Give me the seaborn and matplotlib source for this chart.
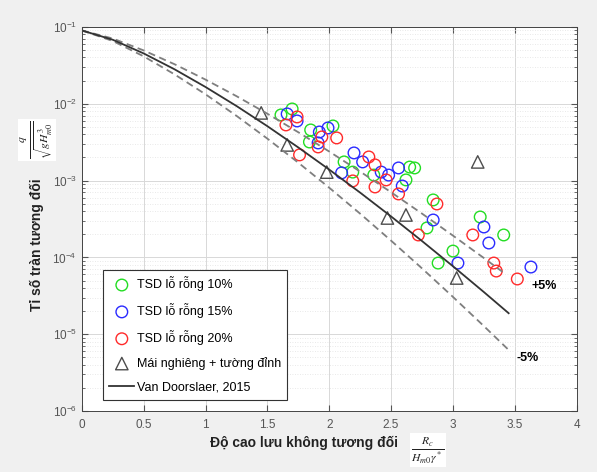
import numpy as np
import pandas as pd
import matplotlib
matplotlib.use("Agg")
import matplotlib.pyplot as plt
import seaborn as sns

# --- data ---
# TSD lo rong 10%
x_10 = [1.61, 1.70, 1.85, 1.84, 2.03, 2.12, 2.19, 2.36, 2.65, 2.69, 2.62, 2.84,
        2.79, 3.00, 2.88, 3.22, 3.41]
q_10 = [7.15e-3, 8.55e-3, 4.56e-3, 3.18e-3, 5.14e-3, 1.75e-3, 1.29e-3, 1.18e-3,
        1.50e-3, 1.46e-3, 1.02e-3, 5.6e-4, 2.42e-4, 1.21e-4, 8.45e-5, 3.36e-4, 1.96e-4]
# TSD lo rong 15%
x_15 = [1.66, 1.74, 1.92, 1.99, 1.91, 2.20, 2.27, 2.10, 2.42, 2.48, 2.56, 2.59,
        2.84, 3.25, 3.29, 3.04, 3.63]
q_15 = [7.37e-3, 5.97e-3, 4.29e-3, 4.84e-3, 3.09e-3, 2.29e-3, 1.75e-3, 1.26e-3,
        1.29e-3, 1.18e-3, 1.46e-3, 8.5e-4, 3.07e-4, 2.49e-4, 1.54e-4, 8.45e-5, 7.5e-5]
# TSD lo rong 20%
x_20 = [1.65, 1.74, 1.91, 1.94, 2.06, 1.76, 2.32, 2.37, 2.19, 2.37, 2.46, 2.56,
        2.87, 2.72, 3.16, 3.33, 3.35, 3.52]
q_20 = [5.30e-3, 6.73e-3, 2.74e-3, 3.70e-3, 3.59e-3, 2.16e-3, 2.03e-3, 1.60e-3,
        9.9e-4, 8.26e-4, 1.02e-3, 6.7e-4, 4.96e-4, 1.96e-4, 1.96e-4, 8.45e-5,
        6.65e-5, 5.24e-5]
# Mai nghieng + tuong dinh
x_tri = [1.45, 1.66, 1.98, 2.47, 2.62, 3.03, 3.20]
q_tri = [7.6e-3, 2.91e-3, 1.29e-3, 3.26e-4, 3.57e-4, 5.4e-5, 1.75e-3]

# Van Doorslaer 2015 curve and +/-5% bands (log10 of q)
x_ref = [0, 0.25, 0.5, 0.75, 1.0, 1.25, 1.5, 1.75, 2.0, 2.25, 2.5, 2.75, 3.0, 3.25, 3.45]
log_ref = [-1.046, -1.167, -1.345, -1.552, -1.782, -2.029, -2.292, -2.569, -2.857,
           -3.157, -3.467, -3.787, -4.115, -4.451, -4.726]
x_up = [0, 0.25, 0.5, 0.75, 1.0, 1.25, 1.5, 1.75, 2.0, 2.25, 2.5, 2.75, 3.0, 3.25, 3.4]
log_up = [-1.046, -1.151, -1.306, -1.486, -1.686, -1.901, -2.130, -2.371, -2.622,
          -2.883, -3.152, -3.430, -3.716, -4.008, -4.187]
log_lo = [-1.046, -1.183, -1.383, -1.618, -1.877, -2.157, -2.454, -2.767, -3.093,
          -3.431, -3.782, -4.143, -4.514, -4.894, -5.204]

labels = ["TSD lỗ rỗng 10%", "TSD lỗ rỗng 15%", "TSD lỗ rỗng 20%",
          "Mái nghiêng + tường đỉnh", "Van Doorslaer, 2015"]
colors = ["#22dd22", "#2a2aff", "#ff2a2a"]

plt.rcParams["mathtext.fontset"] = "stix"
plt.rcParams["font.family"] = ["Liberation Sans", "DejaVu Sans"]

fig = plt.figure(figsize=(5.97, 4.72), dpi=100, facecolor="#f0f0f0")
ax = fig.add_axes([0.137, 0.129, 0.829, 0.814])
ax.set_facecolor("white")
ax.set_yscale("log")

sns.lineplot(x=x_up, y=10 ** np.array(log_up), ax=ax, color="#7f7f7f", lw=1.3,
             linestyle=(0, (4, 2.5)), sort=False)
sns.lineplot(x=x_ref, y=10 ** np.array(log_lo), ax=ax, color="#7f7f7f", lw=1.3,
             linestyle=(0, (4, 2.5)), sort=False)

pts = pd.concat([
    pd.DataFrame({"x": x_10, "q": q_10, "g": labels[0]}),
    pd.DataFrame({"x": x_15, "q": q_15, "g": labels[1]}),
    pd.DataFrame({"x": x_20, "q": q_20, "g": labels[2]}),
])
for lab, col in zip(labels[:3], colors):
    d = pts[pts["g"] == lab]
    sns.scatterplot(data=d, x="x", y="q", ax=ax, marker="o", s=70, color=col,
                    facecolor="none", edgecolor=col, linewidth=1.0, label=lab)
sns.scatterplot(x=x_tri, y=q_tri, ax=ax, marker="^", s=80, color="#4d4d4d",
                facecolor="none", edgecolor="#4d4d4d", linewidth=1.0, label=labels[3])
sns.lineplot(x=x_ref, y=10 ** np.array(log_ref), ax=ax, color="#333333", lw=1.3,
             sort=False, label=labels[4])

ax.set_xlim(0, 4)
ax.set_ylim(1e-6, 1e-1)
ax.set_xticks(np.arange(0, 4.01, 0.5))
ax.set_xticklabels(["0", "0.5", "1", "1.5", "2", "2.5", "3", "3.5", "4"])
ax.set_xlabel("")
ax.set_ylabel("")
ax.tick_params(which="both", direction="in", top=True, right=True,
               colors="#555555", labelsize=8.5)
ax.tick_params(axis="x", pad=6)
ax.tick_params(which="major", length=4)
ax.tick_params(which="minor", length=2)
for s in ax.spines.values():
    s.set_color("#444444")
    s.set_linewidth(0.7)
ax.grid(which="major", color="#d8d8d8", lw=0.7)
ax.grid(which="minor", axis="y", color="#e2e2e2", lw=0.6, linestyle=(0, (1, 2)))
ax.set_axisbelow(True)

ax.text(3.74, 4.25e-5, "+5%", fontsize=9, fontweight="bold", ha="center", va="center")
ax.text(3.60, 4.9e-6, "-5%", fontsize=9, fontweight="bold", ha="center", va="center")

h, l = ax.get_legend_handles_labels()
order = [l.index(s) for s in labels]
leg = ax.legend([h[i] for i in order], [l[i] for i in order], loc="lower left",
                bbox_to_anchor=(0.043, 0.029), borderaxespad=0, fontsize=9,
                labelspacing=0.95, handlelength=2.0, handletextpad=0.2,
                borderpad=0.5, fancybox=False, framealpha=1, edgecolor="#333333")
leg.get_frame().set_linewidth(0.8)

fig.text(304 / 597, 1 - 443 / 472, "Độ cao lưu không tương đối", fontsize=10,
         fontweight="bold", ha="center", va="center", color="#222222")
fig.text(428 / 597, 1 - 450 / 472, r"$\frac{R_c}{H_{m0}\gamma^*}$", fontsize=12,
         ha="center", va="center", color="#222222",
         bbox=dict(facecolor="white", edgecolor="none", pad=1))
fig.text(37 / 597, 1 - 245 / 472, "Tỉ số tràn tương đối", fontsize=10,
         fontweight="bold", rotation=90, ha="center", va="center", color="#222222")
fig.text(37 / 597, 1 - 140 / 472, r"$\frac{q}{\sqrt{g H_{m0}^3}}$", fontsize=12,
         rotation=90, ha="center", va="center", color="#222222",
         bbox=dict(facecolor="white", edgecolor="none", pad=1))

fig.savefig("out.png", dpi=100, facecolor=fig.get_facecolor())
